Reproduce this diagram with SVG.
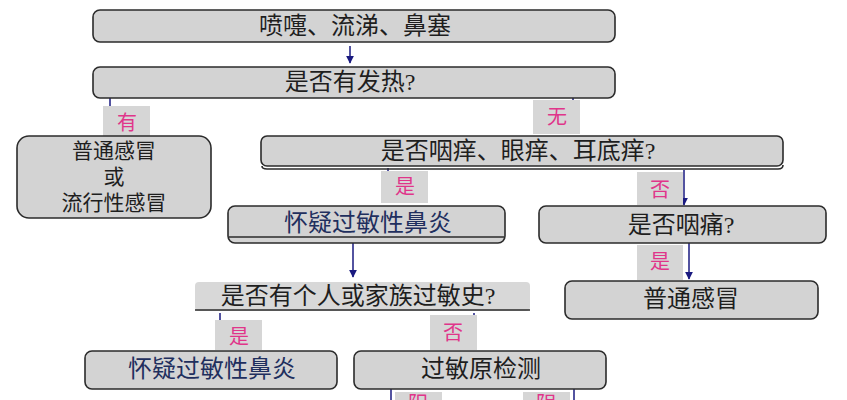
<svg xmlns="http://www.w3.org/2000/svg" width="847" height="400" viewBox="0 0 847 400">
<style>
.box{fill:#d3d3d3;stroke:#2b2b2b;stroke-width:1.6}
.t{font-family:"Liberation Serif","Noto Sans CJK SC",serif;fill:#1e1e1e;text-anchor:middle;dominant-baseline:central}
.navy{fill:#1f2f5e}
.lbl{fill:#d6d6d6}
.lt{font-family:"Liberation Serif","Noto Sans CJK SC",serif;fill:#e0358a;font-size:20px;text-anchor:middle;dominant-baseline:central}
.c{stroke:#1a1a80;stroke-width:1.5;fill:none}
</style>
<defs>
<marker id="ah" viewBox="0 0 10 10" refX="9" refY="5" markerWidth="5" markerHeight="5" orient="auto" markerUnits="userSpaceOnUse">
<path d="M0,0 L10,5 L0,10 z" fill="#1a1a80"/>
</marker>
<marker id="ah2" viewBox="0 0 10 10" refX="9" refY="5" markerWidth="8" markerHeight="8" orient="auto" markerUnits="userSpaceOnUse">
<path d="M0,0 L10,5 L0,10 z" fill="#1a1a80"/>
</marker>
</defs>
<rect width="847" height="400" fill="#ffffff"/>

<g id="connectors">
<line class="c" x1="350" y1="46" x2="350" y2="63" marker-end="url(#ah2)"/>
<line class="c" x1="110" y1="98" x2="110" y2="106"/>
<line class="c" x1="573" y1="98" x2="573" y2="101" stroke="#444"/>
<line class="c" x1="388" y1="168" x2="388" y2="171"/>
<line class="c" x1="684" y1="170" x2="684" y2="205" marker-end="url(#ah2)"/>
<line class="c" x1="353" y1="243" x2="353" y2="277" marker-end="url(#ah2)"/>
<line class="c" x1="689" y1="243" x2="689" y2="279" marker-end="url(#ah2)"/>
<line class="c" x1="220" y1="313" x2="220" y2="320"/>
<line class="c" x1="474" y1="313" x2="474" y2="317"/>
<line class="c" x1="391" y1="389" x2="391" y2="400"/>
<line class="c" x1="574" y1="389" x2="574" y2="400"/>
</g>

<g id="node-symptoms">
<rect class="box" x="93" y="10" width="522" height="32" rx="7"/>
<text class="t" x="355" y="26" font-size="24">喷嚏、流涕、鼻塞</text>
</g>

<g id="node-fever">
<rect class="box" x="93" y="67" width="522" height="31" rx="7"/>
<text class="t" x="350" y="82" font-size="24">是否有发热?</text>
</g>

<g id="label-you">
<rect class="lbl" x="103" y="106" width="47" height="30"/>
<text class="lt" x="127" y="123">有</text>
</g>

<g id="label-wu">
<rect class="lbl" x="533" y="100" width="47" height="34"/>
<text class="lt" x="557" y="117">无</text>
</g>

<g id="node-cold-flu">
<rect class="box" x="17" y="136" width="194" height="82" rx="12"/>
<text class="t" x="114" y="151" font-size="21">普通感冒</text>
<text class="t" x="114" y="177" font-size="21">或</text>
<text class="t" x="114" y="203" font-size="21">流行性感冒</text>
</g>

<g id="node-itch">
<rect class="box" x="261" y="136" width="522" height="30" rx="6"/>
<path d="M262,166 Q262,169 267,169 L778,169 Q783,169 783,165" fill="none" stroke="#2b2b2b" stroke-width="1.6"/>
<text class="t" x="518" y="151" font-size="24">是否咽痒、眼痒、耳底痒?</text>
</g>

<g id="label-shi1">
<rect class="lbl" x="381" y="171" width="47" height="32"/>
<text class="lt" x="405" y="187">是</text>
</g>

<g id="label-fou1">
<rect class="lbl" x="637" y="172" width="46" height="33"/>
<text class="lt" x="660" y="190">否</text>
</g>

<g id="node-allergic1">
<rect class="box" x="228" y="206" width="277" height="37" rx="7"/>
<line x1="229" y1="237" x2="504" y2="237" stroke="#2b2b2b" stroke-width="1.6"/>
<text class="t navy" x="368" y="223" font-size="24">怀疑过敏性鼻炎</text>
</g>

<g id="node-sore">
<rect class="box" x="539" y="206" width="287" height="37" rx="7"/>
<text class="t" x="681" y="225" font-size="24">是否咽痛?</text>
</g>

<g id="label-shi2">
<rect class="lbl" x="637" y="245" width="46" height="35"/>
<text class="lt" x="660" y="262">是</text>
</g>

<g id="node-cold">
<rect class="box" x="565" y="281" width="253" height="38" rx="7"/>
<text class="t" x="691" y="299" font-size="24">普通感冒</text>
</g>

<g id="node-history">
<rect x="195" y="282" width="335" height="29" rx="4" fill="#d8d8d8"/>
<line x1="195" y1="310" x2="530" y2="310" stroke="#2b2b2b" stroke-width="1.6"/>
<text class="t" x="358" y="296" font-size="24">是否有个人或家族过敏史?</text>
</g>

<g id="label-shi3">
<rect class="lbl" x="215" y="320" width="47" height="30"/>
<text class="lt" x="239" y="337">是</text>
</g>

<g id="label-fou2">
<rect class="lbl" x="430" y="315" width="47" height="35"/>
<text class="lt" x="453" y="333">否</text>
</g>

<g id="node-allergic2">
<rect class="box" x="85" y="351" width="252" height="38" rx="7"/>
<text class="t navy" x="212" y="369" font-size="24">怀疑过敏性鼻炎</text>
</g>

<g id="node-test">
<rect class="box" x="354" y="351" width="252" height="38" rx="7"/>
<text class="t" x="481" y="369" font-size="24">过敏原检测</text>
</g>

<g id="label-yang">
<rect class="lbl" x="395" y="392" width="47" height="20"/>
<text class="lt" x="418" y="404">阳</text>
</g>

<g id="label-yin">
<rect class="lbl" x="523" y="392" width="47" height="20"/>
<text class="lt" x="546" y="404">阴</text>
</g>
</svg>
